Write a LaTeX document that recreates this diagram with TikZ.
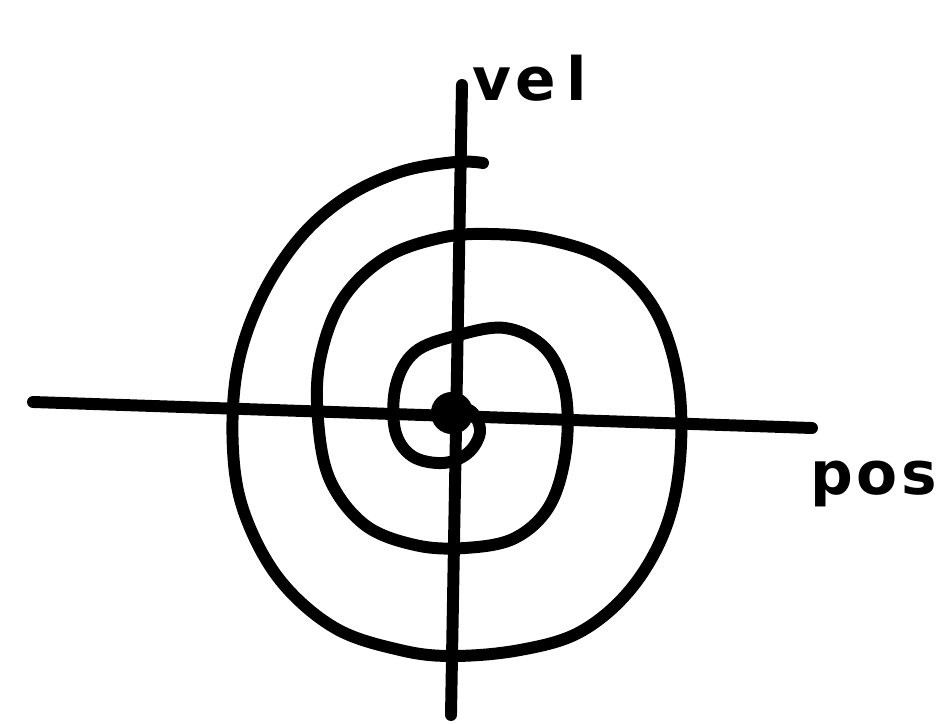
\documentclass[tikz,border=0pt]{standalone}
\usepackage{fontspec}
\setmainfont{DejaVu Sans}
\usepackage{tikz}

\begin{document}
\begin{tikzpicture}[x=0.01cm,y=-0.01cm]

% Colori
\definecolor{inkBlack}{HTML}{000000}

% Spessore del tratto
\def\lw{3.4pt}

\useasboundingbox (0,0) rectangle (938,724);

% Assi
\coordinate (posW) at (33,402);
\coordinate (posE) at (812,428);
\coordinate (velN) at (462,85);
\coordinate (velS) at (451,715);
\draw[inkBlack, line width=\lw, line cap=round] (posW) -- (posE);
\draw[inkBlack, line width=\lw, line cap=round] (velN) -- (velS);

% Spirale (dall'esterno verso l'origine)
\draw[inkBlack, line width=\lw, line cap=round]
  plot[smooth, tension=0.6] coordinates {
    (483,163) (455,162) (400,172) (345,198) (298,240) (260,300)
    (237,370) (233,450) (245,515) (280,580) (335,628) (400,650)
    (453,656) (520,650) (580,632) (630,590) (665,530) (680,460)
    (678,380) (655,310) (610,262) (550,240) (490,234) (440,238)
    (385,258) (342,300) (320,360) (318,420) (330,480) (365,525)
    (415,545) (465,548) (515,538) (550,505) (566,450) (565,390)
    (545,348) (505,328) (455,336) (415,352) (396,385) (395,430)
    (412,456) (443,463) (468,453) (480,432) (472,412) (455,407)};

% Origine
\node[circle, fill=inkBlack, minimum size=30\pgflinewidth, inner sep=0pt] (orig) at (452,413) {};

% Etichette
\node[anchor=south west, inner sep=0pt, font=\fontsize{17}{17}\selectfont\bfseries] (vel) at (472,102) {v\kern1pt e\kern3pt l};
\node[anchor=north west, inner sep=0pt, font=\fontsize{17}{17}\selectfont\bfseries] (pos) at (810,460) {p\kern1pt o\kern1pt s};

\end{tikzpicture}
\end{document}
